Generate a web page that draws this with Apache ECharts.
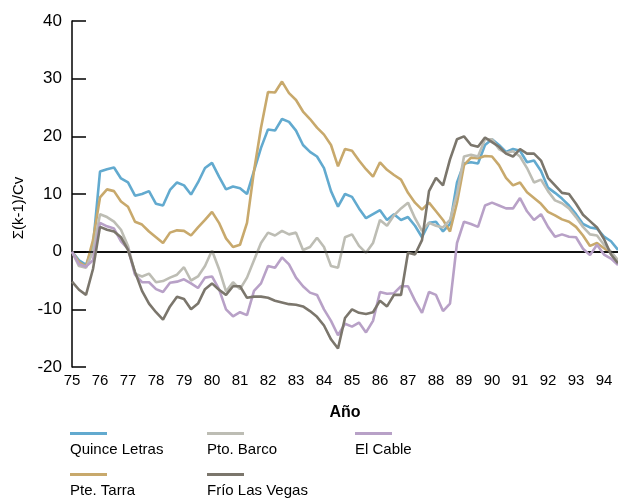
<!DOCTYPE html>
<html>
<head>
<meta charset="utf-8">
<script src="https://cdn.jsdelivr.net/npm/echarts@6/dist/echarts.min.js"></script>
<style>
html,body{margin:0;padding:0;background:#fff;}
#chart{width:618px;height:498px;}
</style>
</head>
<body>
<div id="chart"></div>
<script>
const years = [75.00,75.25,75.50,75.75,76.00,76.25,76.50,76.75,77.00,77.25,77.50,77.75,78.00,78.25,78.50,78.75,79.00,79.25,79.50,79.75,80.00,80.25,80.50,80.75,81.00,81.25,81.50,81.75,82.00,82.25,82.50,82.75,83.00,83.25,83.50,83.75,84.00,84.25,84.50,84.75,85.00,85.25,85.50,85.75,86.00,86.25,86.50,86.75,87.00,87.25,87.50,87.75,88.00,88.25,88.50,88.75,89.00,89.25,89.50,89.75,90.00,90.25,90.50,90.75,91.00,91.25,91.50,91.75,92.00,92.25,92.50,92.75,93.00,93.25,93.50,93.75,94.00,94.25,94.50];

const quinceLetras = [0,-1.5,-2.3,1.0,13.9,14.3,14.6,12.7,12.0,9.7,10.0,10.5,8.3,8.0,10.7,12.0,11.5,9.9,12.0,14.5,15.4,13.0,10.8,11.3,11.0,10.0,14.0,18.0,21.2,21.0,23.0,22.5,21.0,18.5,17.3,16.5,14.5,10.5,7.8,10.0,9.5,7.5,5.8,6.5,7.2,5.5,6.5,5.5,6.0,4.5,2.5,5.0,5.2,3.5,4.8,12.0,15.3,15.5,15.3,18.5,19.5,18.5,17.3,17.8,17.5,15.5,15.8,14.0,11.1,10.2,9.2,8.0,6.5,4.8,4.2,4.0,2.6,1.8,0.3];

const pteTarra = [0,-1.8,-2.6,2.0,9.4,10.8,10.5,8.7,7.8,5.2,4.7,3.5,2.5,1.5,3.3,3.7,3.6,2.8,4.2,5.5,6.9,5.0,2.3,0.8,1.2,5.0,14.0,21.5,27.7,27.6,29.5,27.5,26.3,24.3,23.0,21.5,20.3,18.5,14.8,17.8,17.5,15.8,14.3,13.0,15.5,14.2,13.3,12.5,10.2,8.5,7.3,8.5,7.0,5.5,3.5,8.5,15.0,16.3,16.2,16.6,16.5,15.0,12.8,11.5,12.0,10.3,9.3,8.3,6.9,6.3,5.6,5.2,4.3,2.8,1.0,1.5,0.6,-0.2,-1.5];

const ptoBarco = [0,-2.5,-2.8,0.0,6.5,6.0,5.2,3.8,1.0,-3.8,-4.3,-3.8,-5.3,-5.1,-4.5,-4.0,-2.7,-5.0,-4.3,-2.5,0.2,-3.0,-6.9,-5.3,-6.5,-4.5,-1.5,1.5,3.3,2.8,3.6,3.0,3.3,0.3,0.8,2.4,0.8,-2.5,-2.8,2.5,3.0,1.0,-0.2,1.5,5.5,4.5,6.3,7.5,8.5,5.8,3.6,5.0,4.5,4.2,5.5,10.0,16.5,16.8,16.5,19.5,19.5,17.8,17.1,17.4,16.5,14.5,12.0,12.5,10.5,8.9,8.4,7.5,6.0,4.3,3.0,2.8,1.2,0.0,-1.5];

const elCable = [0,-2.2,-2.6,-1.5,5.0,4.4,4.0,1.8,0.5,-4.0,-5.3,-5.3,-6.5,-7.0,-5.4,-5.2,-4.8,-5.5,-6.3,-4.5,-4.3,-6.5,-10.0,-11.2,-10.5,-11.0,-6.8,-5.5,-2.5,-2.8,-1.0,-2.2,-4.5,-6.0,-7.1,-7.5,-10.0,-12.0,-14.5,-12.5,-13.0,-12.3,-14.0,-12.0,-7.0,-7.3,-7.2,-6.0,-6.0,-8.5,-10.6,-7.0,-7.5,-10.3,-9.0,1.5,5.2,4.8,4.3,8.0,8.5,8.0,7.5,7.5,9.3,7.0,5.5,6.5,4.3,2.6,3.0,2.6,2.5,0.5,-0.6,1.2,-0.5,-1.2,-2.3];

const frioLasVegas = [-5.2,-6.6,-7.5,-3.0,4.3,3.8,3.5,2.5,0.3,-3.5,-6.8,-9.0,-10.5,-11.8,-9.5,-7.8,-8.2,-10.0,-9.0,-6.5,-5.5,-6.6,-7.5,-6.0,-6.0,-8.0,-7.8,-7.8,-8.0,-8.5,-8.8,-9.1,-9.2,-9.5,-10.3,-11.3,-12.8,-15.2,-16.8,-11.5,-10.0,-10.6,-10.8,-10.5,-8.5,-9.5,-7.5,-7.5,-0.2,-0.5,2.0,10.5,12.8,11.5,16.0,19.5,20.0,18.5,18.2,19.8,19.0,18.2,17.0,16.5,17.8,17.0,17.0,15.8,12.8,11.5,10.2,10.0,8.3,6.4,5.3,4.2,2.2,-0.5,-2.0];

const seriesNames = ['Quince Letras','Pte. Tarra','Pto. Barco','El Cable','Frío Las Vegas'];
const seriesValues = [quinceLetras, pteTarra, ptoBarco, elCable, frioLasVegas];
const seriesColors = ['#62aacf','#c8a96c','#bdbdb4','#b8a1c7','#7b766c'];

const yTicks = [-20,-10,0,10,20,30,40];
const xAxisTitle = 'Año';
const yAxisTitle = 'Σ(k-1)/Cv';

const FONT = '"Liberation Sans", Arial, Helvetica, sans-serif';

const chart = echarts.init(document.getElementById('chart'), null, {renderer:'canvas'});

const series = seriesNames.map((name, i) => ({
  name: name,
  type: 'line',
  data: years.map((x, j) => [x, seriesValues[i][j]]),
  showSymbol: false,
  symbol: 'none',
  smooth: false,
  lineStyle: {color: seriesColors[i], width: 2.6},
  itemStyle: {color: seriesColors[i]},
  z: 2 + i,
  animation: false
}));

series.push({
  name: 'zero',
  type: 'line',
  data: [],
  markLine: {
    silent: true,
    symbol: ['none','none'],
    label: {show: false},
    lineStyle: {color: '#000', width: 1.5, type: 'solid'},
    data: [{yAxis: 0}],
    animation: false
  },
  z: 1
});

// legend as graphic elements: line icon above text
const legendPos = [
  {x: 70, y: 432}, {x: 70, y: 473},
  {x: 207, y: 432}, {x: 355, y: 432}, {x: 207, y: 473}
];
const legendOrder = [0, 1, 2, 3, 4];
const graphics = [];
legendOrder.forEach((idx, k) => {
  const p = legendPos[k];
  graphics.push({
    type: 'rect',
    left: p.x, top: p.y,
    shape: {width: 37, height: 3},
    style: {fill: seriesColors[idx]},
    silent: true
  });
  graphics.push({
    type: 'text',
    left: p.x, top: p.y + 10,
    style: {text: seriesNames[idx], fill: '#000', font: '15px ' + FONT},
    silent: true
  });
});

const option = {
  animation: false,
  backgroundColor: '#fff',
  grid: {left: 72, right: 0, top: 21, bottom: 131, containLabel: false},
  xAxis: {
    type: 'value',
    min: 75, max: 94.5, interval: 1,
    name: xAxisTitle,
    nameLocation: 'middle',
    nameGap: 38,
    nameTextStyle: {fontFamily: FONT, fontSize: 16, fontWeight: 'bold', color: '#000'},
    axisLine: {show: true, lineStyle: {color: '#000', width: 1.5}},
    axisTick: {show: false},
    axisLabel: {show: true, color: '#000', fontFamily: FONT, fontSize: 15, margin: 6, showMaxLabel: false,
      formatter: v => (Number.isInteger(v) ? String(v) : '')},
    splitLine: {show: false}
  },
  yAxis: {
    type: 'value',
    min: yTicks[0], max: yTicks[yTicks.length-1], interval: 10,
    name: yAxisTitle,
    nameLocation: 'middle',
    nameGap: 42,
    nameRotate: 90,
    nameTextStyle: {fontFamily: FONT, fontSize: 15, color: '#000', padding: [0, 28, 0, 0]},
    axisLine: {show: true, lineStyle: {color: '#000', width: 1.5}},
    axisTick: {show: true, inside: true, length: 14, lineStyle: {color: '#000', width: 1.5}},
    axisLabel: {show: true, color: '#000', fontFamily: FONT, fontSize: 17, margin: 10},
    splitLine: {show: false}
  },
  graphic: graphics,
  series: series
};
chart.setOption(option);
</script>
</body>
</html>
